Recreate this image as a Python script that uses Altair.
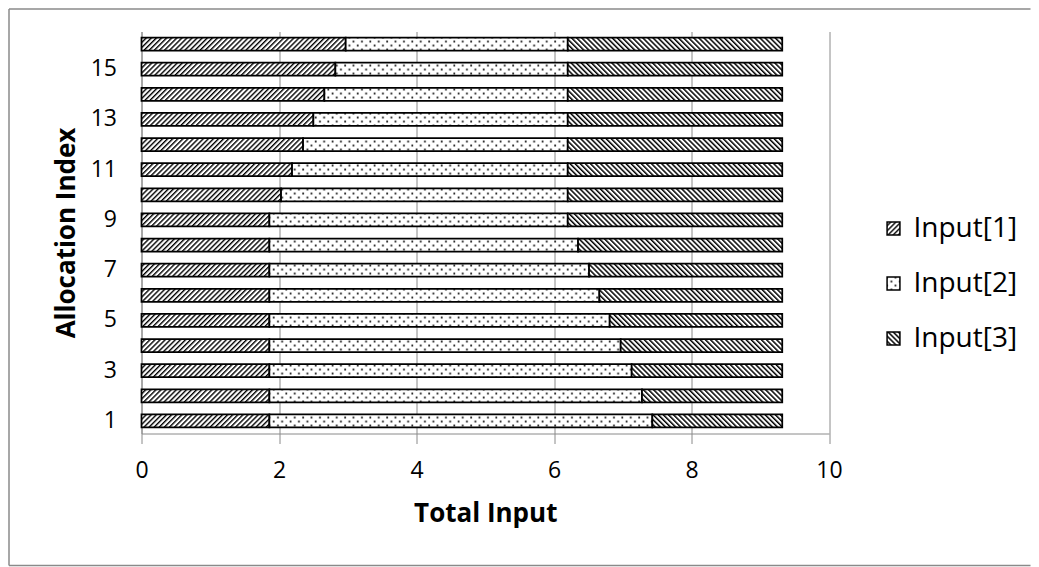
import re
import altair as alt
import pandas as pd
from altair.utils.html import TEMPLATES

# ---------------- data ----------------
allocation = list(range(1, 17))
series_names = ["Input[1]", "Input[2]", "Input[3]"]
input1 = [1.86, 1.86, 1.86, 1.86, 1.86, 1.86, 1.86, 1.86, 1.86,
          2.03, 2.19, 2.35, 2.50, 2.66, 2.82, 2.97]
input2 = [5.57, 5.42, 5.27, 5.11, 4.95, 4.80, 4.65, 4.49, 4.34,
          4.17, 4.01, 3.85, 3.70, 3.54, 3.38, 3.23]
input3 = [1.89, 2.04, 2.19, 2.35, 2.51, 2.66, 2.81, 2.97, 3.12,
          3.12, 3.12, 3.12, 3.12, 3.12, 3.12, 3.12]
x_ticks = [0, 2, 4, 6, 8, 10]
y_label_values = [1, 3, 5, 7, 9, 11, 13, 15]

rows = []
for k, (name, vals) in enumerate(zip(series_names, [input1, input2, input3])):
    for a, v in zip(allocation, vals):
        rows.append({"allocation": a, "input": name, "value": v, "ord": k})
df = pd.DataFrame(rows)

FONT = "Open Sans"
GRAY = "#8a8a8a"
pattern_urls = ["url(#hatchA)", "url(#dotsB)", "url(#hatchC)"]

bars = alt.Chart(df).mark_bar(stroke="black", strokeWidth=1.75).encode(
    x=alt.X("value:Q", stack="zero",
            scale=alt.Scale(domain=[0, 10], nice=False, zero=True),
            axis=alt.Axis(values=x_ticks, title="Total Input", grid=True,
                          gridColor=GRAY, gridWidth=1, domainColor=GRAY,
                          tickColor=GRAY, tickSize=10, labelFontSize=23,
                          labelFont=FONT, labelColor="black", labelPadding=16,
                          labelFlush=False,
                          titleFont=FONT, titleFontSize=26, titleFontWeight="bold",
                          titleColor="black", titleBaseline="alphabetic", titleY=88)),
    y=alt.Y("allocation:O", sort="descending",
            scale=alt.Scale(paddingInner=0.48, paddingOuter=0.24),
            axis=alt.Axis(values=y_label_values, title="Allocation Index", ticks=False,
                          grid=False, domainColor=GRAY, labelFontSize=23, labelFont=FONT,
                          labelColor="black", labelPadding=25, labelAngle=0,
                          titleFont=FONT, titleFontSize=26, titleFontWeight="bold",
                          titleColor="black", titleAngle=270, titleAlign="center",
                          titleBaseline="middle", titleX=-75.5, titleY=201)),
    fill=alt.Fill("input:N",
                  scale=alt.Scale(domain=series_names, range=pattern_urls),
                  legend=alt.Legend(title=None, orient="none", legendX=738, legendY=183,
                                    symbolType="square", symbolSize=165,
                                    symbolStrokeColor="black", symbolStrokeWidth=1.5,
                                    symbolOpacity=1, labelFont=FONT, labelFontSize=28,
                                    labelColor="black", labelOffset=6, rowPadding=27,
                                    padding=0, labelLimit=300)),
    order=alt.Order("ord:Q"),
)

# outer chart-area border (left, top, bottom edges; the right edge lies off-page)
fr = pd.DataFrame({"f": [0]})
frame_left = alt.Chart(fr).mark_rule(stroke=GRAY, strokeWidth=1.5).encode(
    x=alt.value(-132.5), y=alt.value(-22.5), y2=alt.value(534))
frame_top = alt.Chart(fr).mark_rule(stroke=GRAY, strokeWidth=1.5).encode(
    x=alt.value(-132.5), x2=alt.value(889), y=alt.value(-22.5))
frame_bottom = alt.Chart(fr).mark_rule(stroke=GRAY, strokeWidth=1.5).encode(
    x=alt.value(-132.5), x2=alt.value(889), y=alt.value(534))

chart = alt.layer(frame_left, frame_top, frame_bottom, bars).properties(
    width=687.5, height=402,
    padding={"left": 133.5, "top": 23.5, "right": 202, "bottom": 133.5},
    autosize=alt.AutoSizeParams(type="none"),
    background="white",
).configure_view(stroke=None)

DEFS = """
<style>body{overflow:hidden;}</style>
<svg width="0" height="0" style="position:absolute" aria-hidden="true">
 <defs>
  <pattern id="hatchA" patternUnits="userSpaceOnUse" width="3.6" height="3.6" patternTransform="rotate(45)">
   <rect width="3.6" height="3.6" fill="white"/>
   <rect width="1.4" height="3.6" fill="black"/>
  </pattern>
  <pattern id="hatchC" patternUnits="userSpaceOnUse" width="3.6" height="3.6" patternTransform="rotate(-45)">
   <rect width="3.6" height="3.6" fill="white"/>
   <rect width="1.5" height="3.6" fill="black"/>
  </pattern>
  <pattern id="dotsB" patternUnits="userSpaceOnUse" width="8.4" height="8">
   <rect width="8.4" height="8" fill="white"/>
   <rect x="1.2" y="1.2" width="1.7" height="1.7" fill="black"/>
   <rect x="5.4" y="5.2" width="1.7" height="1.7" fill="black"/>
  </pattern>
 </defs>
</svg>
"""


class PatternPage:
    def render(self, **kwargs):
        html = TEMPLATES["standard"].render(**kwargs)
        if re.search(r"<body[^>]*>", html):
            return re.sub(r"(<body[^>]*>)", lambda m: m.group(1) + DEFS, html, count=1)
        return DEFS + html


chart.save("out.html", embed_options={"renderer": "svg", "actions": False},
           template=PatternPage())
